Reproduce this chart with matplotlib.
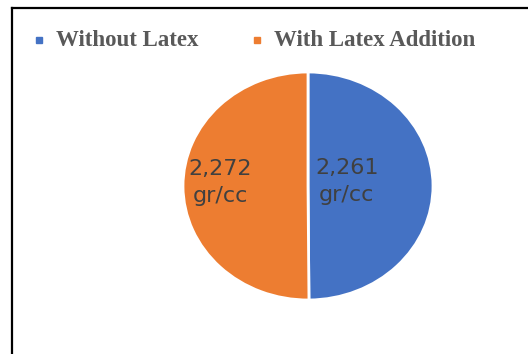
import numpy as np
import matplotlib.pyplot as plt
from matplotlib.patches import Rectangle
from matplotlib.lines import Line2D

# ---------- Data ----------
categories = ["Without Latex", "With Latex Addition"]
density = [2261, 2272]
value_labels = ["2,261\ngr/cc", "2,272\ngr/cc"]
colors = ["#4472C4", "#ED7D31"]

# ---------- Figure ----------
W, H = 528, 354
fig = plt.figure(figsize=(W / 100, H / 100), dpi=100)

# frame lines (left and top only)
fig.add_artist(Line2D([12 / W, 12 / W], [0, 1 - 8 / H], transform=fig.transFigure,
                      color="black", lw=1.6, solid_capstyle="projecting"))
fig.add_artist(Line2D([12 / W, 1], [1 - 8 / H, 1 - 8 / H], transform=fig.transFigure,
                      color="black", lw=1.6, solid_capstyle="projecting"))

# ---------- Pie ----------
ax = fig.add_axes([183 / W, 54 / H, 250 / W, 228 / H])
wedges, _ = ax.pie(density, colors=colors, startangle=90, counterclock=False,
                   radius=1.0, wedgeprops=dict(edgecolor="white", linewidth=2))
ax.set_aspect("auto")
ax.set_xlim(-1.0, 1.0)
ax.set_ylim(-1.0, 1.0)

# value labels inside slices
label_dist = [0.31, 0.70]
for w, txt, d in zip(wedges, value_labels, label_dist):
    mid = np.deg2rad((w.theta1 + w.theta2) / 2)
    ax.text(d * np.cos(mid), d * np.sin(mid) + 0.035, txt, ha="center", va="center",
            fontsize=16, color="#404040", linespacing=1.45, family="DejaVu Sans")

# ---------- Legend ----------
leg_x = [36, 254]
for x, c, name in zip(leg_x, colors, categories):
    fig.add_artist(Rectangle((x / W, 1 - 43 / H), 6 / W, 6 / H,
                             transform=fig.transFigure, color=c))
    fig.text((x + 20) / W, 1 - 40 / H, name, ha="left", va="center",
             fontsize=16.5, fontweight="bold", color="#595959",
             family="Liberation Serif")

fig.savefig("out.png", dpi=100)
